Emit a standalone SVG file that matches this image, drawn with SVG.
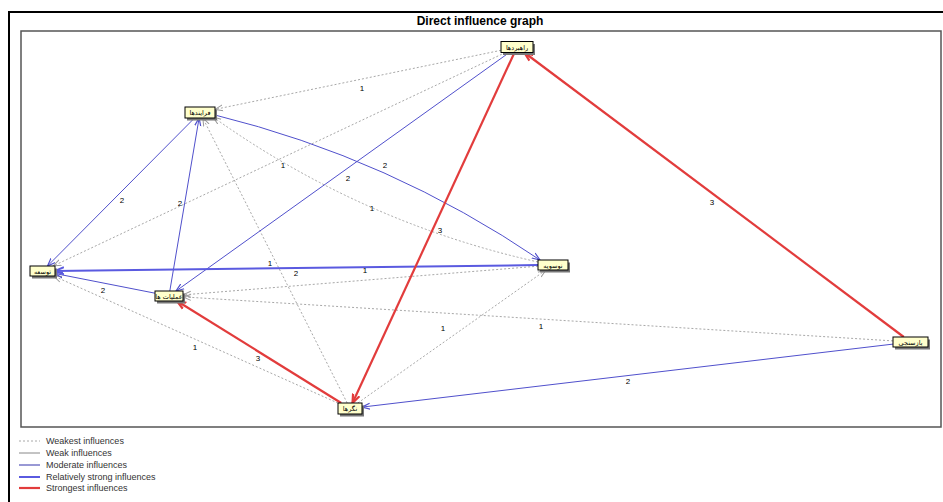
<svg xmlns="http://www.w3.org/2000/svg" width="943" height="502" viewBox="0 0 943 502">
<style>
.frame{fill:none;stroke:#000;stroke-width:2}
.plot{fill:#fff;stroke:#555;stroke-width:1.5}
.title{font-family:"Liberation Sans",Arial,sans-serif;font-size:12px;font-weight:bold;fill:#000}
.nbox{fill:#ffffcc;stroke:#000;stroke-width:1}
.nshadow{fill:#777}
.ntext{font-family:"DejaVu Sans",sans-serif;font-size:6.5px;fill:#000;text-anchor:middle}
.lbl{font-family:"Liberation Sans",Arial,sans-serif;font-size:8px;fill:#000;text-anchor:middle}
.weakest{fill:none;stroke:#a8a8a8;stroke-width:1;stroke-dasharray:2,2}
.weak{fill:none;stroke:#888;stroke-width:1}
.moderate{fill:none;stroke:#5050cc;stroke-width:1}
.rstrong{fill:none;stroke:#5a5ae0;stroke-width:2}
.strongest{fill:none;stroke:#e23c3c;stroke-width:2.2}
.legtext{font-family:"Liberation Sans",Arial,sans-serif;font-size:9px;fill:#333}
</style>
<defs>
<marker id="aGrey" markerUnits="userSpaceOnUse" markerWidth="10" markerHeight="8" refX="8" refY="4" orient="auto"><path d="M0,1 L8,4 L0,7" fill="none" stroke="#999" stroke-width="1"/></marker>
<marker id="aBlue" markerUnits="userSpaceOnUse" markerWidth="10" markerHeight="8" refX="8" refY="4" orient="auto"><path d="M0,1 L8,4 L0,7" fill="none" stroke="#5050cc" stroke-width="1.2"/></marker>
<marker id="aBlueT" markerUnits="userSpaceOnUse" markerWidth="12" markerHeight="10" refX="9" refY="5" orient="auto"><path d="M0,1.5 L9,5 L0,8.5" fill="none" stroke="#5a5ae0" stroke-width="2"/></marker>
<marker id="aRed" markerUnits="userSpaceOnUse" markerWidth="12" markerHeight="10" refX="9" refY="5" orient="auto"><path d="M0,1.5 L9,5 L0,8.5" fill="none" stroke="#e23c3c" stroke-width="2.2"/></marker>
</defs>
<rect x="0" y="0" width="943" height="502" fill="#fff"/>
<path class="frame" d="M9,503 L9,12 L944,12"/>
<text class="title" x="480" y="25" text-anchor="middle">Direct influence graph</text>
<rect class="plot" x="21" y="31" width="920" height="396"/>

<g id="connectors">
<!-- weakest (dotted) -->
<line class="weakest" x1="501" y1="50.3" x2="215" y2="109.4" marker-end="url(#aGrey)"/>
<line class="weakest" x1="505.4" y1="52.5" x2="53.1" y2="266" marker-end="url(#aGrey)"/>
<path class="weakest" d="M538,262 Q360.8,222.4 213,117" marker-end="url(#aGrey)"/>
<line class="weakest" x1="347.2" y1="403" x2="202.8" y2="118" marker-end="url(#aGrey)"/>
<line class="weakest" x1="338" y1="403.1" x2="53.7" y2="276" marker-end="url(#aGrey)"/>
<line class="weakest" x1="357.8" y1="403" x2="545.9" y2="270" marker-end="url(#aGrey)"/>
<line class="weakest" x1="893" y1="340.9" x2="183" y2="296.9" marker-end="url(#aGrey)"/>
<line class="weakest" x1="538" y1="266.2" x2="183" y2="294.9" marker-end="url(#aGrey)"/>
<!-- moderate -->
<line class="moderate" x1="194.5" y1="118" x2="47.5" y2="266" marker-end="url(#aBlue)"/>
<line class="moderate" x1="169.8" y1="291" x2="199.1" y2="118" marker-end="url(#aBlue)"/>
<line class="moderate" x1="509.3" y1="52.5" x2="176" y2="291" marker-end="url(#aBlue)"/>
<path class="moderate" d="M215,115 Q390.5,158.3 540,260" marker-end="url(#aBlue)"/>
<line class="moderate" x1="893" y1="344.1" x2="362" y2="407.1" marker-end="url(#aBlue)"/>
<line class="moderate" x1="155" y1="293.2" x2="55" y2="273.5" marker-end="url(#aBlue)"/>
<!-- relatively strong -->
<line class="rstrong" x1="538" y1="265.1" x2="55" y2="270.9" marker-end="url(#aBlueT)"/>
<!-- strongest -->
<line class="strongest" x1="903.8" y1="337" x2="524.3" y2="52.5" marker-end="url(#aRed)"/>
<line class="strongest" x1="514.5" y1="52.5" x2="352.5" y2="403" marker-end="url(#aRed)"/>
<line class="strongest" x1="341.2" y1="403" x2="177" y2="301" marker-end="url(#aRed)"/>
<!-- labels -->
<text class="lbl" x="362" y="91">1</text>
<text class="lbl" x="283" y="168">1</text>
<text class="lbl" x="372" y="211">1</text>
<text class="lbl" x="296" y="276">2</text>
<text class="lbl" x="195" y="350">1</text>
<text class="lbl" x="443" y="331">1</text>
<text class="lbl" x="541" y="329">1</text>
<text class="lbl" x="365" y="273">1</text>
<text class="lbl" x="122" y="203">2</text>
<text class="lbl" x="180" y="206">2</text>
<text class="lbl" x="348" y="181">2</text>
<text class="lbl" x="385" y="168">2</text>
<text class="lbl" x="628" y="384">2</text>
<text class="lbl" x="103" y="293">2</text>
<text class="lbl" x="270" y="266">1</text>
<text class="lbl" x="712" y="205">3</text>
<text class="lbl" x="440" y="233">3</text>
<text class="lbl" x="258" y="361">3</text>
</g>

<g id="node-R"><rect class="nshadow" x="503" y="44" width="32" height="11"/><rect class="nbox" x="501" y="41.5" width="32" height="11"/><text class="ntext" x="517" y="49.5">راهبردها</text></g>
<g id="node-F"><rect class="nshadow" x="187" y="109.5" width="30" height="11"/><rect class="nbox" x="185" y="107" width="30" height="11"/><text class="ntext" x="200" y="115">فرایندها</text></g>
<g id="node-T"><rect class="nshadow" x="32" y="268.5" width="25" height="10"/><rect class="nbox" x="30" y="266" width="25" height="10"/><text class="ntext" x="42.5" y="273.5">توسعه</text></g>
<g id="node-O"><rect class="nshadow" x="157" y="293.5" width="28" height="10"/><rect class="nbox" x="155" y="291" width="28" height="10"/><text class="ntext" x="169" y="298.5">عملیات ها</text></g>
<g id="node-N"><rect class="nshadow" x="540" y="262.5" width="30" height="10"/><rect class="nbox" x="538" y="260" width="30" height="10"/><text class="ntext" x="553" y="267.5">نوسویه</text></g>
<g id="node-B"><rect class="nshadow" x="895" y="339.5" width="35" height="10"/><rect class="nbox" x="893" y="337" width="35" height="10"/><text class="ntext" x="910.5" y="344.5">بازسنجی</text></g>
<g id="node-G"><rect class="nshadow" x="340" y="405.5" width="24" height="11"/><rect class="nbox" x="338" y="403" width="24" height="11"/><text class="ntext" x="350" y="411">نگرها</text></g>

<g id="legend">
<line class="weakest" x1="19" y1="441" x2="40" y2="441"/>
<text class="legtext" x="46" y="444">Weakest influences</text>
<line class="weak" x1="19" y1="453" x2="40" y2="453"/>
<text class="legtext" x="46" y="456">Weak influences</text>
<line stroke="#3333aa" stroke-width="1" x1="19" y1="465" x2="40" y2="465"/>
<text class="legtext" x="46" y="468">Moderate influences</text>
<line class="rstrong" x1="19" y1="477" x2="40" y2="477"/>
<text class="legtext" x="46" y="480">Relatively strong influences</text>
<line class="strongest" x1="19" y1="488" x2="40" y2="488"/>
<text class="legtext" x="46" y="491">Strongest influences</text>
</g>
</svg>
